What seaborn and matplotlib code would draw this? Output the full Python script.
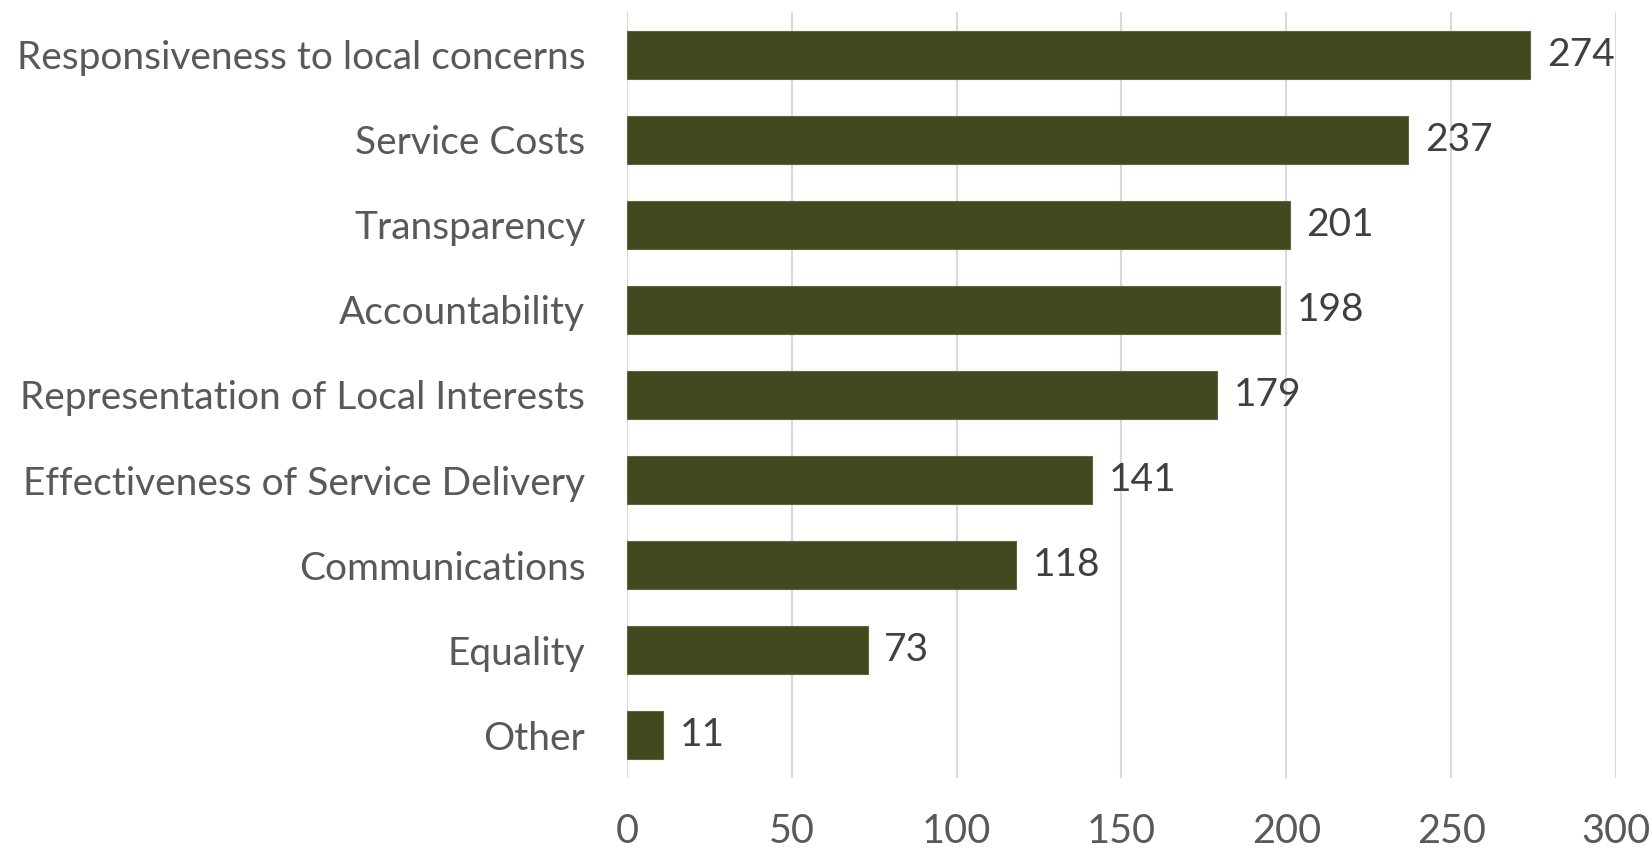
import matplotlib
matplotlib.use("Agg")
import matplotlib.pyplot as plt
import seaborn as sns
import pandas as pd

categories = [
    "Responsiveness to local concerns",
    "Service Costs",
    "Transparency",
    "Accountability",
    "Representation of Local Interests",
    "Effectiveness of Service Delivery",
    "Communications",
    "Equality",
    "Other",
]
counts = [274, 237, 201, 198, 179, 141, 118, 73, 11]
x_ticks = [0, 50, 100, 150, 200, 250, 300]

BAR_COLOR = "#41491F"
GRID_COLOR = "#D9D9D9"
LABEL_COLOR = "#595959"
VALUE_COLOR = "#404040"

sns.set_theme(style="white")
plt.rcParams["font.family"] = ["Lato", "DejaVu Sans"]

df = pd.DataFrame({"category": categories, "count": counts})

fig = plt.figure(figsize=(16.52, 8.52), dpi=100)
ax = fig.add_axes([0.3795, 0.0869, 0.9782 - 0.3795, 0.9859 - 0.0869])

sns.barplot(data=df, x="count", y="category", orient="h", color=BAR_COLOR,
            width=0.565, saturation=1, ax=ax, zorder=3,
            edgecolor="#5F6640", linewidth=0.8)

ax.set_xlim(0, 300)
ax.set_ylim(len(categories) - 0.5, -0.5)
ax.set_xticks(x_ticks)
ax.xaxis.grid(True, color=GRID_COLOR, linewidth=1.5, zorder=0)
ax.yaxis.grid(False)
ax.set_axisbelow(True)
for s in ax.spines.values():
    s.set_visible(False)
ax.axvline(0, color=GRID_COLOR, linewidth=1.5, zorder=1)

ax.set_xlabel("")
ax.set_ylabel("")
ax.tick_params(axis="x", length=0, pad=25, labelsize=28.5, labelcolor=LABEL_COLOR)
ax.tick_params(axis="y", length=0, pad=30, labelsize=28, labelcolor=LABEL_COLOR)

for container in ax.containers:
    ax.bar_label(container, labels=[str(v) for v in counts], padding=12,
                 fontsize=28, color=VALUE_COLOR)

fig.savefig("out.png", dpi=100, facecolor="white")
